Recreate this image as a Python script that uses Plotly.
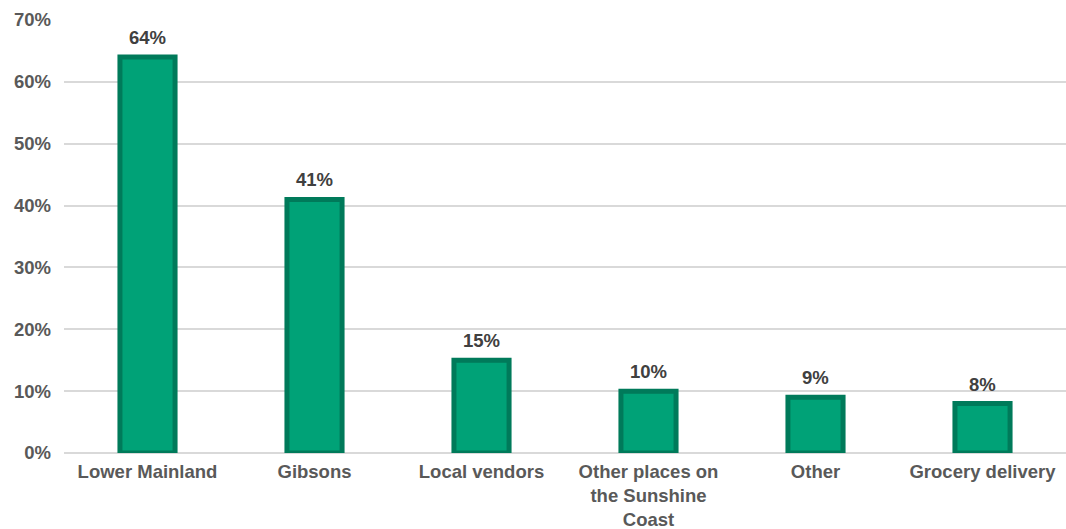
import plotly.graph_objects as go

categories = ["Lower Mainland", "Gibsons", "Local vendors",
              "Other places on<br>the Sunshine<br>Coast", "Other", "Grocery delivery"]
values = [64, 41, 15, 10, 9, 8]
tick_vals = [0, 10, 20, 30, 40, 50, 60, 70]
tick_text = ["0%", "10%", "20%", "30%", "40%", "50%", "60%", "70%"]

fig = go.Figure(go.Bar(
    x=categories,
    y=values,
    width=0.33,
    marker=dict(color="#00A277", line=dict(color="#007A5A", width=5)),
    hoverinfo="skip",
))

for c, v in zip(categories, values):
    fig.add_annotation(x=c, y=v, text=f"{v}%", showarrow=False,
                       yanchor="bottom", yshift=7,
                       font=dict(family="Liberation Sans, Arial, sans-serif", size=18.5,
                                 color="#404040", weight="bold"))

fig.update_layout(
    width=1066, height=529,
    margin=dict(l=64, r=0, t=20, b=76, autoexpand=False),
    plot_bgcolor="white", paper_bgcolor="white",
    showlegend=False,
    font=dict(family="Liberation Sans, Arial, sans-serif", size=18.5, color="#595959", weight="bold"),
)
fig.update_xaxes(showgrid=False, showline=False, ticks="", tickangle=0, automargin=False,
                 ticklabelstandoff=5,
                 tickfont=dict(size=18.5, color="#595959", weight="bold"))
fig.update_yaxes(range=[0, 70], tickvals=tick_vals, ticktext=tick_text, automargin=False,
                 showgrid=True, gridcolor="#D9D9D9", gridwidth=1.5,
                 zeroline=True, zerolinecolor="#D9D9D9", zerolinewidth=1.5,
                 showline=False, ticks="", ticklabelstandoff=12,
                 tickfont=dict(size=18.5, color="#595959", weight="bold"))

fig.write_html("out.html", config={"displayModeBar": False},
               post_script="document.body.style.margin='0px';document.body.style.overflow='hidden';")
